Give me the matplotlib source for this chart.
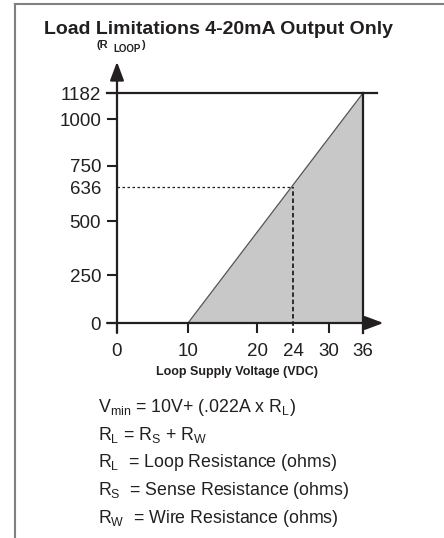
import numpy as np
import matplotlib
matplotlib.use('Agg')
import matplotlib.pyplot as plt
from matplotlib.lines import Line2D

# values shown on the chart
x_ticks = [0, 10, 20, 24, 30, 36]
y_ticks = [0, 250, 500, 636, 750, 1000, 1182]
v_start = 10        # volts where the load line starts
v_end = 36          # max supply voltage
r_max = 1182        # max loop resistance
v_op, r_op = 24, 636

equations = [
    r'$\mathrm{V_{min}}$ = 10V+ (.022A x R$_\mathrm{L}$)',
    r'R$_\mathrm{L}$ = R$_\mathrm{S}$ + R$_\mathrm{W}$',
    r'R$_\mathrm{L}$  = Loop Resistance (ohms)',
    r'R$_\mathrm{S}$  = Sense Resistance (ohms)',
    r'R$_\mathrm{W}$  = Wire Resistance (ohms)',
]

# the original axes are not drawn to scale, so use a piecewise scale
x_knots = [-20, 0, 10, 20, 24, 30, 36, 60]
x_pos = [-142, 0, 71, 140, 176, 212, 246, 382]
y_knots = [-500, 0, 250, 500, 636, 750, 1000, 1182, 2000]
y_pos = [-96, 0, 48, 102, 136, 157, 204, 230, 347]

plt.rcParams['font.family'] = 'Liberation Sans'
plt.rcParams['mathtext.fontset'] = 'custom'
plt.rcParams['mathtext.rm'] = 'Liberation Sans'
plt.rcParams['mathtext.bf'] = 'Liberation Sans:bold'

W, H = 444, 538
ink = '#231f20'


def piecewise(knots, pos):
    def fwd(v):
        return np.interp(v, knots, pos)

    def inv(p):
        return np.interp(p, pos, knots)
    return fwd, inv


def fx(x):
    return x / W


def fy(y):
    return 1 - y / H


fig = plt.figure(figsize=(W / 100, H / 100), dpi=100)
ax = fig.add_axes([fx(117), fy(323), 246 / W, 230 / H])
ax.set_xscale('function', functions=piecewise(x_knots, x_pos))
ax.set_yscale('function', functions=piecewise(y_knots, y_pos))
ax.set_xlim(0, 36)
ax.set_ylim(0, 1182)
for s in ax.spines.values():
    s.set_visible(False)

# shaded operating region
ax.fill([v_start, v_end, v_end], [0, r_max, 0], color='#c8c8c8', lw=0, zorder=1)
ax.plot([v_start, v_end], [0, r_max], color='#555555', lw=0.9, zorder=2)

# limits
ax.plot([-1.35, 38.5], [r_max, r_max], color=ink, lw=1.6, clip_on=False, zorder=3)
ax.plot([v_end, v_end], [-52, r_max], color=ink, lw=1.6, clip_on=False, zorder=3)

# operating point guides
ax.plot([0, v_op], [r_op, r_op], color=ink, lw=0.9, ls=(0, (2, 2)), clip_on=False, zorder=3)
ax.plot([v_op, v_op], [-52, r_op], color=ink, lw=1.3, ls=(0, (2.5, 1.5)), clip_on=False, zorder=3)

# axes with arrows
arrow = dict(arrowstyle='-|>,head_length=0.8,head_width=0.3', lw=1.6, color=ink,
             shrinkA=0, shrinkB=0, mutation_scale=14)
ax.annotate('', xy=(39.6, 0), xytext=(-1.4, 0), arrowprops=arrow, annotation_clip=False, zorder=4)
ax.annotate('', xy=(0, 1400), xytext=(0, -52), arrowprops=arrow, annotation_clip=False, zorder=4)

ax.set_xticks(x_ticks)
ax.set_yticks(y_ticks)
ax.set_xticklabels([str(v) for v in x_ticks])
ax.set_yticklabels([str(v) for v in y_ticks])
ax.tick_params(axis='both', direction='out', length=7.5, width=1.5, color=ink,
               labelsize=13.5, labelcolor=ink)
ax.tick_params(axis='x', pad=7)
ax.tick_params(axis='y', pad=4)
ax.xaxis.get_major_ticks()[x_ticks.index(v_op)].tick1line.set_visible(False)
ax.yaxis.get_major_ticks()[y_ticks.index(r_op)].tick1line.set_visible(False)

fig.text(fx(218), fy(29), 'Load Limitations 4-20mA Output Only', ha='center', va='center',
         fontsize=14, fontweight='bold', color=ink)
fig.text(fx(96), fy(45), '(R', ha='left', va='center', fontsize=8, fontweight='bold', color=ink)
fig.text(fx(113), fy(49), 'LOOP', ha='left', va='center', fontsize=7, fontweight='bold', color=ink)
fig.text(fx(141), fy(45), ')', ha='left', va='center', fontsize=8, fontweight='bold', color=ink)
fig.text(fx(237), fy(372), 'Loop Supply Voltage (VDC)', ha='center', va='center',
         fontsize=9, fontweight='bold', color=ink)

for i, line in enumerate(equations):
    fig.text(fx(98), fy(407 + i * 27.8), line, ha='left', va='center', fontsize=12.8, color=ink)

# page frame
fig.add_artist(Line2D([fx(15), fx(15)], [0, fy(4)], transform=fig.transFigure, color='#808080', lw=1.5))
fig.add_artist(Line2D([fx(15), 1], [fy(4), fy(4)], transform=fig.transFigure, color='#808080', lw=1.5))

fig.savefig('out.png', dpi=100)
